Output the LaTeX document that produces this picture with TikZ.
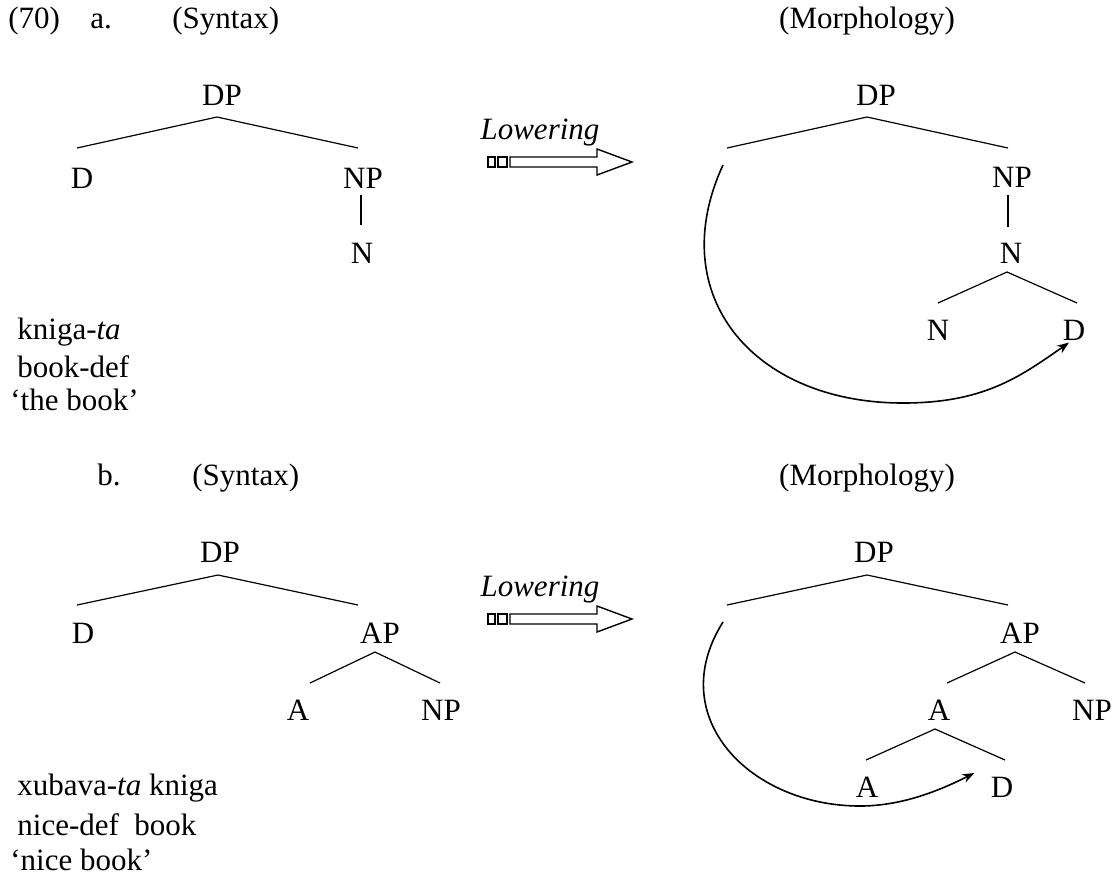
\documentclass[tikz,border=0pt]{standalone}
\usepackage{fontspec}
\setmainfont{Liberation Serif}
\usetikzlibrary{arrows.meta,positioning}

\tikzset{lowering/.pic={
    \draw[line width=0.7pt] (0,-5) rectangle (7,5) (10,-5) rectangle (19,5);
    \draw[line width=0.7pt] (22,-5) -- (109,-5) -- (109,-13) -- (144,0)
        -- (109,13) -- (109,5) -- (22,5) -- cycle;
}}

\begin{document}
\begin{tikzpicture}[x=0.5pt,y=0.5pt,font=\fontsize{15.5}{18}\selectfont,
                    every node/.style={inner sep=0pt},
                    >={Stealth[length=6pt,width=4.5pt]}]
    \tikzstyle{branch}=[line width=0.6pt]
    \tikzstyle{move}=[->,line width=0.8pt]
    \tikzstyle{gloss}=[anchor=west]
    \tikzstyle{head}=[anchor=base west]

    \useasboundingbox (0,0) rectangle (1118,-875);

    % (70a) headings
    \node[head] (ex)   at (8,-28)   {(70)};
    \node[head] (la)   at (90,-28)  {a.};
    \node[head] (synA) at (172,-28) {(Syntax)};
    \node[anchor=base] (morA) at (867,-28) {(Morphology)};

    % syntax tree a
    \node (sDP) at (222,-95)  {DP};
    \node (sD)  at (82,-178)  {D};
    \node (sNP) at (363,-178) {NP};
    \node (sN)  at (362,-253) {N};
    \draw[branch] ([shift={(-5,30)}]sD.center) -- ([shift={(-5,-22)}]sDP.center)
                  -- ([shift={(-5,30)}]sNP.center);
    \draw[branch] ([shift={(-2,-17)}]sNP.center) -- ([shift={(-1,28)}]sN.center);

    \node[font=\fontsize{15.5}{18}\selectfont\itshape] (aLow) at (540,-133) {Lowering};
    \pic at ([shift={(-52,-29)}]aLow.center) {lowering};

    % morphology tree a
    \node (mDP) at (876,-95)   {DP};
    \coordinate (mGap) at (727,-148);
    \node (mNP) at (1012,-177) {NP};
    \node (mN)  at (1011,-253) {N};
    \node (mN2) at (938,-330)  {N};
    \node (mD)  at (1074,-330) {D};
    \draw[branch] (mGap) -- ([shift={(-9,-22)}]mDP.center) -- ([shift={(-4,29)}]mNP.center);
    \draw[branch] ([shift={(-4,-18)}]mNP.center) -- ([shift={(-3,26)}]mN.center);
    \draw[branch] ([shift={(0,27)}]mN2.center) -- ([shift={(-4,-19)}]mN.center)
                  -- ([shift={(3,27)}]mD.center);
    \coordinate (mStart) at (723,-165);
    \coordinate (mBot) at (903,-403);
    \draw[move] (mStart) .. controls +(-60,-130) and +(-150,0) .. (mBot)
        .. controls +(80,0) and +(-50,-35) .. ([xshift=-2.5pt,yshift=-1pt]mD.south);

    \node[gloss] (gA1) at (17,-332) {kniga-\textit{ta}};
    \node[gloss] (gA2) at (17,-367) {book-def};
    \node[gloss] (gA3) at (10,-400) {‘the book’};

    % (70b) headings
    \node[head] (lb)   at (97,-485)  {b.};
    \node[head] (synB) at (192,-485) {(Syntax)};
    \node[anchor=base] (morB) at (867,-485) {(Morphology)};

    % syntax tree b
    \node (sbDP) at (220,-552) {DP};
    \node (sbD)  at (83,-633)  {D};
    \node (sbAP) at (380,-633) {AP};
    \node (sbA)  at (298,-710) {A};
    \node (sbNP) at (441,-710) {NP};
    \draw[branch] ([shift={(-6,28)}]sbD.center) -- ([shift={(-2,-23)}]sbDP.center)
                  -- ([shift={(-22,28)}]sbAP.center);
    \draw[branch] ([shift={(12,27)}]sbA.center) -- ([shift={(-5,-19)}]sbAP.center)
                  -- ([shift={(-1,27)}]sbNP.center);

    \node[font=\fontsize{15.5}{18}\selectfont\itshape] (bLow) at (540,-590) {Lowering};
    \pic at ([shift={(-52,-29)}]bLow.center) {lowering};

    % morphology tree b
    \node (mbDP) at (874,-552)  {DP};
    \coordinate (mbGap) at (727,-605);
    \node (mbAP) at (1020,-633) {AP};
    \node (mbA)  at (939,-710)  {A};
    \node (mbNP) at (1092,-710) {NP};
    \node (mbA2) at (867,-787)  {A};
    \node (mbD)  at (1002,-787) {D};
    \draw[branch] (mbGap) -- ([shift={(-7,-23)}]mbDP.center) -- ([shift={(-12,28)}]mbAP.center);
    \draw[branch] ([shift={(8,27)}]mbA.center) -- ([shift={(-5,-19)}]mbAP.center)
                  -- ([shift={(-7,27)}]mbNP.center);
    \draw[branch] ([shift={(-1,27)}]mbA2.center) -- ([shift={(-4,-19)}]mbA.center)
                  -- ([shift={(3,27)}]mbD.center);
    \coordinate (mbStart) at (723,-622);
    \coordinate (mbBot) at (860,-806);
    \draw[move] (mbStart) .. controls +(-60,-95) and +(-110,0) .. (mbBot)
        .. controls +(45,0) and +(-30,-15) .. ([xshift=-8pt,yshift=7pt]mbD.west);

    \node[gloss] (gB1) at (17,-788) {xubava-\textit{ta} kniga};
    \node[gloss] (gB2) at (17,-825) {nice-def\ \ book};
    \node[gloss] (gB3) at (10,-860) {‘nice book’};
\end{tikzpicture}
\end{document}
